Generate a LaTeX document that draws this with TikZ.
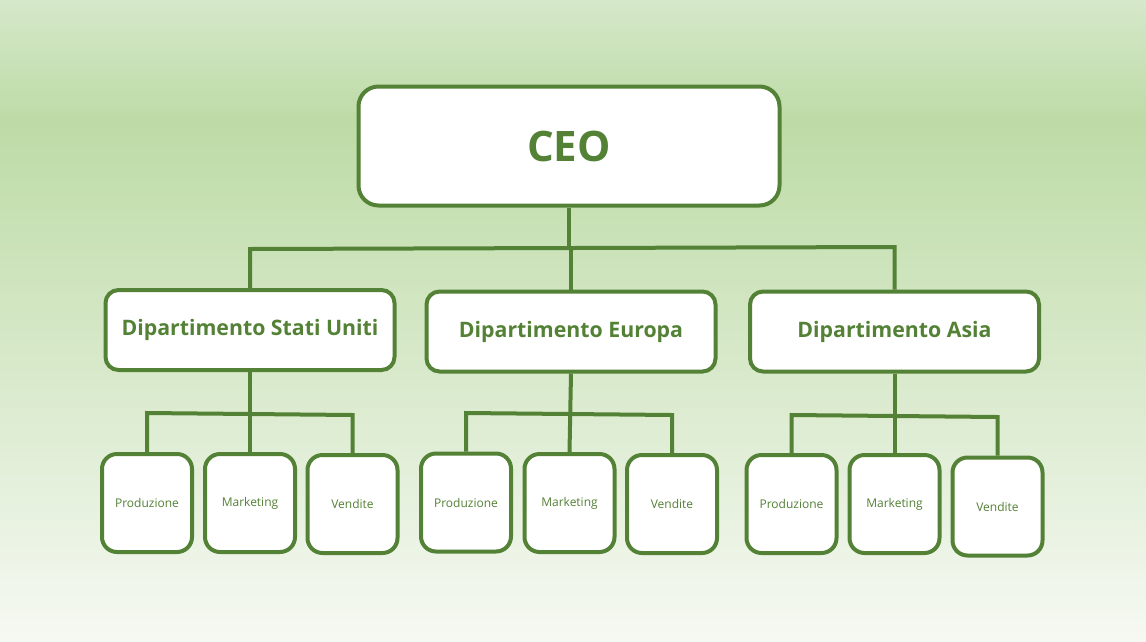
\documentclass[tikz,border=0pt]{standalone}
\usepackage{fontspec}
\setmainfont{Open Sans}
\definecolor{grn}{HTML}{538135}
\definecolor{bgtop}{HTML}{D5E8CA}
\definecolor{bgmid}{HTML}{BDDBA6}
\definecolor{bgbot}{HTML}{F6F9F3}
\tikzset{
  box/.style={draw=grn, line width=4pt, fill=white, text=grn, align=center, inner sep=0pt},
  ceobox/.style={box, rounded corners=20pt, minimum width=421pt, minimum height=119pt, font=\bfseries\fontsize{42}{48}\selectfont},
  deptbox/.style={box, rounded corners=13pt, minimum width=289pt, minimum height=80pt, font=\bfseries\fontsize{21.3}{25}\selectfont},
  leafbox/.style={box, rounded corners=15pt, minimum width=90pt, minimum height=98pt, font=\fontsize{12}{14}\selectfont},
  conn/.style={draw=grn, line width=4pt}
}
\begin{document}
\begin{tikzpicture}[x=1pt,y=-1pt]
\useasboundingbox (0,0) rectangle (1146,641);
\shade[top color=bgtop, bottom color=bgmid] (0,0) rectangle (1146,120);
\shade[top color=bgmid, bottom color=bgbot] (0,119.5) rectangle (1146,641);

\node[ceobox] (ceo) at (569,146) {CEO};

\node[deptbox] (us) at (250,330) {Dipartimento Stati Uniti};
\node[deptbox] (eu) at (571,331.5) {Dipartimento Europa};
\node[deptbox] (as) at (894.5,331.5) {Dipartimento Asia};

\node[leafbox] (usp) at (147,503) {Produzione};
\node[leafbox] (usm) at (250,503) {Marketing};
\node[leafbox] (usv) at (352.5,504) {Vendite};
\node[leafbox] (eup) at (466,502.5) {Produzione};
\node[leafbox] (eum) at (569.5,503) {Marketing};
\node[leafbox] (euv) at (672,504) {Vendite};
\node[leafbox] (asp) at (791.5,504) {Produzione};
\node[leafbox] (asm) at (894.5,504) {Marketing};
\node[leafbox] (asv) at (997.5,506.5) {Vendite};

% CEO to departments
\draw[conn] (ceo.south) -- (ceo.south |- 0,248);
\draw[conn] (us.north) -- (us.north |- 0,249) -- (as.north |- 0,247) -- (as.north);
\draw[conn] (eu.north) -- (eu.north |- 0,248);

% departments to units
\draw[conn] (us.south) -- (usm.north);
\draw[conn] (usp.north) -- (usp.north |- 0,413) -- (usv.north |- 0,415) -- (usv.north);
\draw[conn] (eu.south) -- (eum.north);
\draw[conn] (eup.north) -- (eup.north |- 0,413) -- (euv.north |- 0,415) -- (euv.north);
\draw[conn] (as.south) -- (asm.north);
\draw[conn] (asp.north) -- (asp.north |- 0,415) -- (asv.north |- 0,417) -- (asv.north);
\end{tikzpicture}
\end{document}
